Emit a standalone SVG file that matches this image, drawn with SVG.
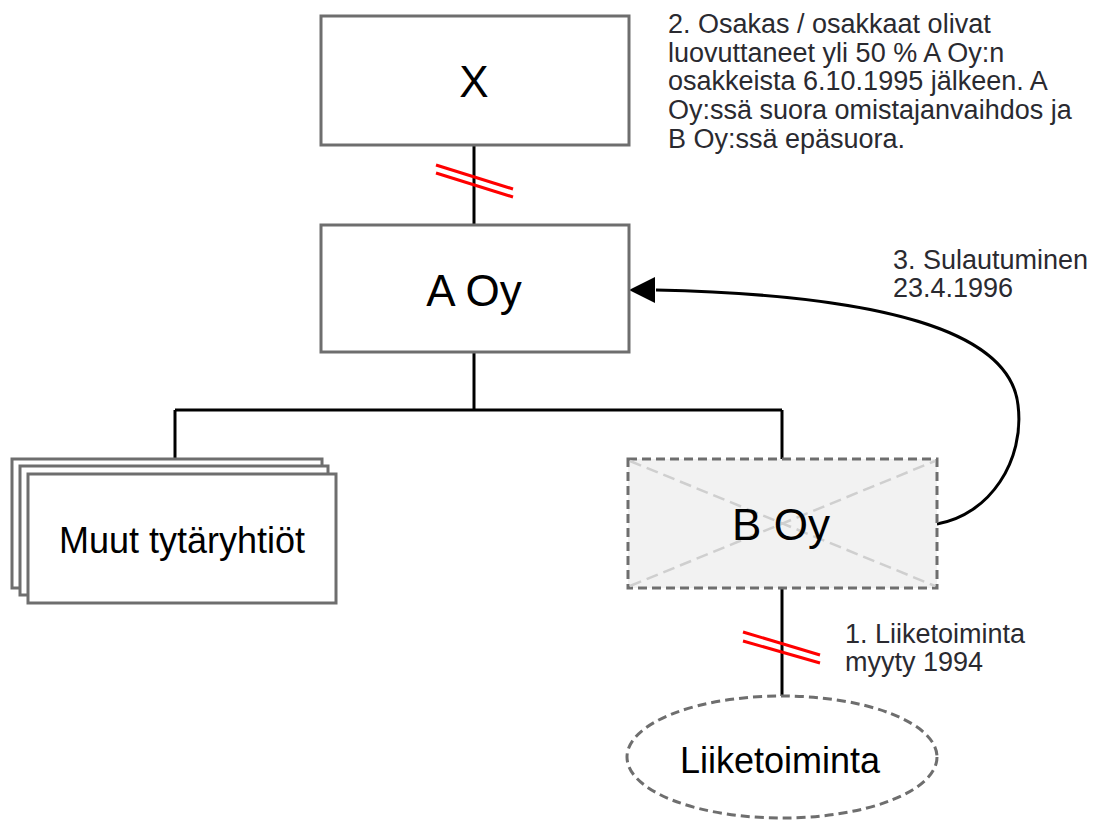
<svg xmlns="http://www.w3.org/2000/svg" width="1094" height="822" viewBox="0 0 1094 822">
  <style>
    .box { fill: #ffffff; stroke: #6e6e6e; stroke-width: 3; }
    .dashbox { fill: #f2f2f2; stroke: #6e6e6e; stroke-width: 3; stroke-dasharray: 9 5; }
    .cross { stroke: #cfcfcf; stroke-width: 2.5; stroke-dasharray: 12 6; fill: none; }
    .edge { stroke: #000000; stroke-width: 3; fill: none; }
    .cut { stroke: #ff0000; stroke-width: 3; fill: none; }
    .big { font-family: "Liberation Sans", Arial, sans-serif; font-size: 44px; fill: #000000; text-anchor: middle; }
    .mid { font-family: "Liberation Sans", Arial, sans-serif; font-size: 36px; fill: #000000; text-anchor: middle; }
    .note { font-family: "Liberation Sans", Arial, sans-serif; font-size: 27px; fill: #2a2a30; }
  </style>

  <rect width="1094" height="822" fill="#ffffff"/>

  <!-- connectors -->
  <g id="connectors">
    <line class="edge" x1="474" y1="145" x2="474" y2="225"/>
    <line class="edge" x1="474" y1="352" x2="474" y2="410"/>
    <line class="edge" x1="175" y1="410" x2="782" y2="410"/>
    <line class="edge" x1="175" y1="410" x2="175" y2="459"/>
    <line class="edge" x1="782" y1="410" x2="782" y2="459"/>
    <line class="edge" x1="782" y1="588" x2="782" y2="696"/>
    <!-- merger arc from B Oy back to A Oy -->
    <path class="edge" d="M937,524 C990,515 1025,460 1018,405 C1010,330 880,295 656,290"/>
    <path d="M629,290 L655,277 L655,303 Z" fill="#000000"/>
    <!-- severed ownership marks -->
    <line class="cut" x1="436" y1="165" x2="513" y2="189"/>
    <line class="cut" x1="436" y1="173" x2="513" y2="197"/>
    <line class="cut" x1="743" y1="632" x2="820" y2="655"/>
    <line class="cut" x1="743" y1="641" x2="820" y2="663"/>
  </g>

  <g id="node-x">
    <rect class="box" x="321" y="16" width="308" height="129"/>
    <text class="big" x="474" y="97">X</text>
  </g>

  <g id="node-a-oy">
    <rect class="box" x="321" y="225" width="308" height="127"/>
    <text class="big" x="474" y="306">A Oy</text>
  </g>

  <g id="node-muut">
    <rect class="box" x="12" y="459" width="310" height="129"/>
    <rect class="box" x="20" y="466" width="308" height="129"/>
    <rect class="box" x="28" y="474" width="308" height="129"/>
    <text class="mid" x="182" y="553">Muut tytäryhtiöt</text>
  </g>

  <g id="node-b-oy">
    <rect class="dashbox" x="628" y="459" width="309" height="129"/>
    <line class="cross" x1="630" y1="461" x2="935" y2="586"/>
    <line class="cross" x1="630" y1="586" x2="935" y2="461"/>
    <text class="big" x="781" y="540">B Oy</text>
  </g>

  <g id="node-liiketoiminta">
    <ellipse cx="782" cy="757" rx="155" ry="61" fill="#ffffff" stroke="#6e6e6e" stroke-width="3" stroke-dasharray="9 5"/>
    <text class="mid" x="780" y="773">Liiketoiminta</text>
  </g>

  <g id="notes">
    <text class="note" x="668" y="33">2. Osakas / osakkaat olivat</text>
    <text class="note" x="668" y="62">luovuttaneet yli 50 % A Oy:n</text>
    <text class="note" x="668" y="90">osakkeista 6.10.1995 jälkeen. A</text>
    <text class="note" x="668" y="119">Oy:ssä suora omistajanvaihdos ja</text>
    <text class="note" x="668" y="148">B Oy:ssä epäsuora.</text>
    <text class="note" x="893" y="269">3. Sulautuminen</text>
    <text class="note" x="893" y="297">23.4.1996</text>
    <text class="note" x="845" y="643">1. Liiketoiminta</text>
    <text class="note" x="845" y="671">myyty 1994</text>
  </g>
</svg>
